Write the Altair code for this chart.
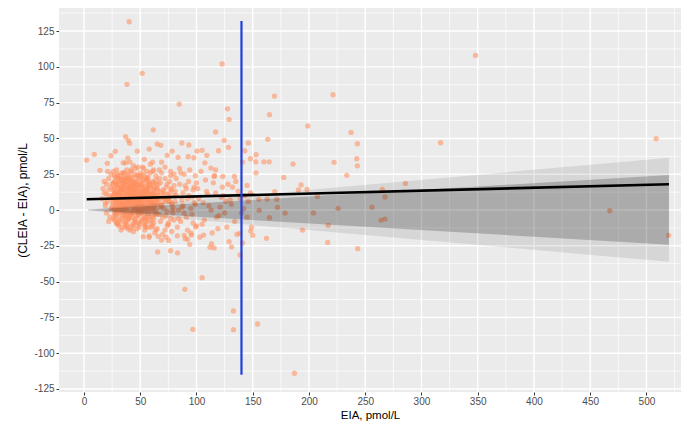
import altair as alt
import pandas as pd

# ---------------- data ----------------
# scattered points (EIA, CLEIA-EIA)
out_eia = [40.2, 38.2, 51.8, 122.8, 84.6, 127.6, 169.3, 221.4, 348, 508.6, 519.8, 467.4, 317, 285.7, 265.2, 267.6, 267.6,
           96.8, 132.9, 132.9, 154.3, 187.1, 89.7,
           129, 164.9, 199, 61.6, 117, 237.4, 37, 39.4, 40.6, 124.6, 146, 163.4, 65.1, 68.4, 87, 93.2, 58, 47.4, 27.8,
           9.2, 2.4, 78.4, 100.4, 105, 109.2, 128.5, 119.6, 143, 153, 148, 152.8, 159.9, 164.6, 141, 185.9, 222.3,
           242.5, 243, 233.6, 243, 24, 20.7, 14.2, 34.9, 39, 40.9, 53.6, 61, 69, 74, 83.7, 92.6, 97.7, 107.5, 112.8,
           117, 115.7, 123.4, 133.7, 145, 153, 177.6, 193, 198.3, 207.5, 225.9, 217, 216.7, 243.3, 194.2, 178.8, 172,
           162.2, 164.9, 155.7, 171.4, 162.8, 169.6, 155.4, 148.3, 150, 138.5, 138.8, 131.2, 115.7, 113.4, 106.3,
           99.2, 92.1, 95.6, 89.1, 83.2, 77, 75.2, 65.5, 58, 52.7, 66, 105, 190.6, 256, 264, 204]
out_diff = [131.5, 87.8, 95.5, 102, 74, 70.7, 79.6, 80.5, 108, 49.8, -17.7, -0.5, 47, 18.6, 14.4, 9.1, -6.3,
            -83.3, -70.5, -83.6, -79.6, -114, -55.4,
            63.3, 66.6, 58.7, 56, 54.5, 54.2, 51.2, 48.7, 46.6, 48.7, 46.8, 49.4, 46.1, 45.2, 46.8, 45.4, 42.6, 41.2, 41,
            38.9, 34.9, 41.2, 41.2, 41.7, 38.2, 43.8, 41.4, 41.4, 38.6, 35.8, 33.7, 33.7, 33.7, 33.5, 32.1, 33.3,
            35.8, 30.9, 24.2, 46.3, 37.9, 32.6, 27.7, 33, 36.3, 33.5, 35.4, 33.5, 33.5, 38.2, 36.8, 37.2, 36.5, 33, 29.3,
            28.1, 23.5, 23.5, 23.5, 17.2, 26, 22.8, 17.5, 14.4, 9.5, 1.2, -10.7, -22.6, -27, -14, -2.1, 1.9,
            -19.8, -5.4, -0.2, 7.5, 7.7, 12.8, 7.5, -14.7, -17.7, -16.3, -31.4, -25.8, -26.5, -23.5, -17.5,
            -11.7, -20.5, -17.5, -17.7, -30, -28.4, -21.2, -29.3, -19.1, -18.6, -18.4, -47.3, 14, 2, -7, -2]

# dense cluster, read band by band
core_eia_a = [16, 18, 19, 20, 21, 22, 23, 24, 17, 20, 22, 24, 19, 23, 21, 25, 18, 24, 22, 20]
core_diff_a = [8, 12, 3, 18, 6, 22, 10, 1, 15, -2, 14, 25, 5, -5, 27, 9, 20, 16, -8, 11]

core_eia_b = [26, 27, 28, 29, 30, 31, 32, 33, 34, 35,
              26, 28, 30, 32, 34, 27, 29, 31, 33, 35,
              25, 27, 29, 31, 33, 35, 26, 28, 30, 32,
              34, 26, 28, 30, 32, 34, 27, 29, 31, 33,
              35, 25, 28, 31, 34, 26, 29, 32, 35, 27,
              30, 33, 26, 29, 32, 35, 28, 31, 34, 27,
              30, 33, 25, 28, 31, 34, 29, 32, 35, 30]
core_diff_b = [5, 12, -3, 18, 8, 22, 0, 14, -6, 26,
               10, 2, 16, -8, 6, 20, -1, 11, 24, 3,
               7, 15, 28, -4, 9, 17, 1, 23, -10, 13,
               4, 19, -5, 25, 8, -2, 12, 6, -7, 21,
               14, 3, 10, 18, 0, 27, -9, 5, 16, -3,
               22, 9, -6, 13, 2, 19, 7, -11, 11, 24,
               4, 15, 18, -2, 8, 26, 1, 20, -4, 12]

core_eia_c = [36, 38, 40, 42, 44, 46, 48, 50, 37, 39,
              41, 43, 45, 47, 49, 36, 38, 40, 42, 44,
              46, 48, 50, 37, 39, 41, 43, 45, 47, 49,
              36, 39, 42, 45, 48, 37, 40, 43, 46, 49,
              38, 41, 44, 47, 50, 36, 39, 42, 45, 48,
              37, 40, 43, 46, 49, 38, 41, 44, 47, 50,
              36, 40, 44, 48, 39, 43, 47, 37, 41, 45,
              49, 38, 42, 46, 50, 39, 44, 48, 36, 41,
              45, 47, 43, 37, 40, 42, 46, 49, 38, 44,
              35, 39, 43, 47, 41, 45, 49, 37, 40, 48,
              42, 46, 38, 44, 50, 36, 40, 48, 43, 39]
core_diff_c = [6, -4, 15, 22, 9, -9, 30, 3, 18, 11,
               -1, 13, 25, 5, -12, 20, 8, -6, 28, 14,
               2, 17, 10, -3, 24, 7, -10, 19, 12, 0,
               26, -7, 4, 16, 8, 13, 21, -2, 29, 5,
               11, -14, 18, 3, 23, -5, 9, 27, -8, 15,
               1, 16, 6, 12, -4, 22, 10, -11, 20, 7,
               14, 3, 31, -1, 19, 8, 24, -8, 12, 4,
               17, 6, -3, 10, 26, -13, 15, 2, 21, 9,
               0, 13, 23, 10, -6, 5, 18, -9, 28, 7,
               3, 20, -2, 8, 14, -7, 11, 33, 6, 24,
               16, 1, -10, 12, -2, 9, 25, 5, 19, 0]

core_eia_d = [51, 53, 55, 57, 59, 61, 63, 65, 52, 54,
              56, 58, 60, 62, 64, 51, 53, 55, 57, 59,
              61, 63, 52, 54, 56, 58, 60, 62, 64, 51,
              53, 55, 57, 59, 61, 63, 65, 52, 54, 56,
              58, 60, 62, 64, 51, 55, 59, 63, 53, 57,
              61, 65, 52, 56, 60, 64, 54, 58, 62, 50,
              55, 59, 63, 53, 57, 61, 51, 60, 64, 58,
              52, 56, 62, 54, 60, 66, 58, 64, 50, 57,
              63, 55, 61, 53, 59, 65, 57, 51, 62, 54]
core_diff_d = [4, 12, -8, 20, 7, 27, -3, 15, 10, -14,
               2, 18, 9, -6, 24, 13, 29, -1, 6, 16,
               -11, 8, 21, 3, 14, -4, 11, 19, 0, -7,
               25, 6, -2, 17, 5, -16, 10, 30, 9, 22,
               1, -9, 14, 7, 16, -5, 26, 3, 12, -12,
               20, -3, 6, 11, 2, 18, -10, 8, 28, 13,
               15, -7, 4, 9, 23, 12, -1, 5, -14, 19,
               0, 27, 16, -4, 10, 7, -18, 21, 8, 3,
               11, -12, -5, 18, 32, 4, 14, 24, 1, 6]

core_eia_e = [66, 68, 70, 72, 74, 76, 78, 80, 67, 69,
              71, 73, 75, 77, 79, 66, 68, 70, 72, 74,
              76, 78, 67, 69, 71, 73, 75, 77, 79, 80,
              65, 68, 71, 74, 77, 80, 67, 70, 73, 76,
              79, 66, 69, 72, 75, 78, 67, 70, 73, 76,
              68, 74, 80, 71, 77, 66, 72, 78, 69, 75]
core_diff_e = [5, -8, 14, 22, -1, 9, -15, 17, 28, 3,
               11, -19, 6, 24, 0, 18, 12, -5, 8, -11,
               20, 4, -3, 26, 13, 7, -9, 15, 2, 10,
               -13, 19, 1, 11, -6, 25, 8, -17, 16, 6,
               -2, 10, 4, 30, -10, 14, 22, 9, -4, 12,
               2, 18, -7, 6, 27, 13, -14, 5, -21, 8]

core_eia_f = [81, 83, 85, 87, 89, 91, 93, 95, 97, 99,
              82, 84, 86, 88, 90, 92, 94, 96, 98, 100,
              81, 85, 89, 93, 97, 83, 87, 91, 95, 99,
              84, 88, 92, 96, 100, 82, 86, 90, 94, 98]
core_diff_f = [6, -12, 18, 2, 25, -5, 10, -16, 14, 4,
               22, 0, -8, 12, -20, 8, 28, -3, 16, -11,
               13, 29, -2, 20, -9, -18, 7, 15, 1, 24,
               -6, 3, -14, 9, 19, 10, 26, 17, -24, 5]

core_eia_g = [102, 105, 108, 111, 114, 117, 120, 123, 126, 129,
              101, 104, 107, 110, 113, 116, 119, 122, 125, 128,
              103, 106, 109, 112, 115, 118, 121, 124, 127, 130]
core_diff_g = [8, -10, 21, 3, -16, 12, -4, 16, 6, -22,
               15, 27, -7, 11, 0, 24, -13, 9, -2, 18,
               -19, 5, 13, -26, 19, -5, 2, 10, -12, 7]

core_eia_h = [131, 134, 137, 140, 143, 146, 149, 132, 136, 139, 142, 145, 148, 135, 141]
core_diff_h = [4, -8, 13, -2, 10, 6, -12, 16, -17, 8, 1, -5, 12, 20, -23]

# densest part of the cloud
core_eia_i = [28, 31, 34, 37, 40, 43, 46, 49, 52, 55,
              58, 61, 30, 33, 36, 39, 42, 45, 48, 51,
              54, 57, 60, 29, 32, 35, 38, 41, 44, 47,
              50, 53, 56, 59, 62, 30, 34, 38, 42, 46,
              50, 54, 58, 32, 36, 40, 44, 48, 52, 56,
              29, 33, 37, 41, 45, 49, 53, 57, 61, 31,
              35, 39, 43, 47, 51, 55, 59, 28, 34, 40,
              46, 52, 58, 36, 42, 48, 54, 60, 38, 44]
core_diff_i = [3, 9, 15, -2, 6, 12, 18, 0, 8, 14,
               -5, 4, 10, 16, 1, 7, 13, 19, -3, 5,
               11, 17, -1, 6, 12, 18, 2, 8, 14, -4,
               9, 15, 0, 6, 11, -2, 5, 13, 20, 3,
               10, -6, 7, 14, 1, 8, 16, -1, 4, 12,
               17, 2, 9, -4, 11, 6, 0, 13, 5, 10,
               19, -3, 7, 15, 2, 9, 4, 11, -1, 16,
               6, 13, 8, 3, 10, -2, 14, 7, 5, 1]

core_eia_j = [27, 30, 33, 36, 39, 42, 45, 48, 51, 54,
              57, 60, 63, 26, 29, 32, 35, 38, 41, 44,
              47, 50, 53, 56, 59, 62, 65, 31, 37, 43,
              49, 55, 61, 28, 34, 40, 46, 52, 58, 64,
              33, 39, 45, 51, 57, 27, 35, 43, 53, 61,
              30, 38, 46, 54, 62, 36, 44, 50, 56, 42]
core_diff_j = [-7, 1, 21, -9, 4, -12, 10, 22, -8, 2,
               12, -12, 7, 14, -9, 4, 22, -11, 17, 1,
               -13, 19, -6, 21, 9, -9, 15, 8, -12, 18,
               -10, 23, 11, 19, -12, 22, -6, 17, 6, -2,
               -14, 15, 20, -2, 17, 0, 10, -5, 21, 1,
               24, 17, 5, -11, 14, 23, -15, 18, -8, 3]

# grey limit wedges
band_x = [3.5, 520]
outer_hi = [0.3, 36.5]
outer_lo = [-0.3, -36.2]
inner_hi = [0.2, 24.4]
inner_lo = [-0.2, -24.2]

# fitted line
fit_x = [2.4, 520]
fit_y = [7.5, 18.0]

# vertical reference line
ref_x = [140]
ref_y_lo = [-115]
ref_y_hi = [132]

# axis ticks / grid
x_major = [0, 50, 100, 150, 200, 250, 300, 350, 400, 450, 500]
y_major = [-125, -100, -75, -50, -25, 0, 25, 50, 75, 100, 125]
x_minor = [25, 75, 125, 175, 225, 275, 325, 375, 425, 475, 525]
y_minor = [-112.5, -87.5, -62.5, -37.5, -12.5, 12.5, 37.5, 62.5, 87.5, 112.5, 137.5]

# ---------------- build tables ----------------
pts = []
for e_list, d_list in [(out_eia, out_diff), (core_eia_a, core_diff_a), (core_eia_b, core_diff_b),
                       (core_eia_c, core_diff_c), (core_eia_d, core_diff_d), (core_eia_e, core_diff_e),
                       (core_eia_f, core_diff_f), (core_eia_g, core_diff_g), (core_eia_h, core_diff_h),
                       (core_eia_i, core_diff_i), (core_eia_j, core_diff_j)]:
    pts.extend(zip(e_list, d_list))
pts_df = pd.DataFrame(pts, columns=["eia", "diff"])

band_df = pd.DataFrame({"x": band_x, "ohi": outer_hi, "olo": outer_lo, "ihi": inner_hi, "ilo": inner_lo})
fit_df = pd.DataFrame({"x": fit_x, "y": fit_y})
ref_df = pd.DataFrame({"x": ref_x, "y": ref_y_lo, "y2": ref_y_hi})
xmaj_df = pd.DataFrame({"v": x_major})
ymaj_df = pd.DataFrame({"v": y_major})
xmin_df = pd.DataFrame({"v": x_minor})
ymin_df = pd.DataFrame({"v": y_minor})

FONT = "Liberation Sans"
xs = alt.Scale(domain=[-22.2, 530.7], nice=False, zero=False)
ys = alt.Scale(domain=[-127.1, 141.1], nice=False, zero=False)

x_axis = alt.Axis(values=x_major, grid=False, domain=False, ticks=True, tickColor="#333333", tickSize=3,
                  tickWidth=1, labelColor="#4D4D4D", labelFontSize=10, labelPadding=1, labelFont=FONT,
                  title="EIA, pmol/L", titleFont=FONT, titleFontSize=11.5, titleFontWeight="normal",
                  titleColor="#000000", titleY=23, titleBaseline="middle")
y_axis = alt.Axis(values=y_major, grid=False, domain=False, ticks=True, tickColor="#333333", tickSize=3,
                  tickWidth=1, labelColor="#4D4D4D", labelFontSize=10, labelPadding=2, labelFont=FONT,
                  labelExpr="'' + datum.value",
                  title="(CLEIA - EIA), pmol/L", titleFont=FONT, titleFontSize=12, titleFontWeight="normal",
                  titleColor="#000000", titleX=-37, titleY=192, titleAngle=270, titleAlign="center",
                  titleBaseline="middle")


def X(field):
    return alt.X(field, scale=xs, axis=x_axis)


def Y(field):
    return alt.Y(field, scale=ys, axis=y_axis)


ymin_layer = alt.Chart(ymin_df).mark_rule(color="white", strokeWidth=0.7).encode(y=Y("v:Q"))
xmin_layer = alt.Chart(xmin_df).mark_rule(color="white", strokeWidth=0.7).encode(x=X("v:Q"))
ymaj_layer = alt.Chart(ymaj_df).mark_rule(color="white", strokeWidth=1.4).encode(y=Y("v:Q"))
xmaj_layer = alt.Chart(xmaj_df).mark_rule(color="white", strokeWidth=1.4).encode(x=X("v:Q"))

points = alt.Chart(pts_df).mark_circle(size=28, color="#FF9060", opacity=0.58).encode(
    x=X("eia:Q"), y=Y("diff:Q"))

outer = alt.Chart(band_df).mark_area(color="#000000", opacity=0.085).encode(
    x=X("x:Q"), y=Y("ohi:Q"), y2="olo:Q")
inner = alt.Chart(band_df).mark_area(color="#000000", opacity=0.2).encode(
    x=X("x:Q"), y=Y("ihi:Q"), y2="ilo:Q")

fit = alt.Chart(fit_df).mark_line(color="#000000", strokeWidth=2.6).encode(
    x=X("x:Q"), y=Y("y:Q"))

ref = alt.Chart(ref_df).mark_rule(color="#1F3FD9", strokeWidth=2.2).encode(
    x=X("x:Q"), y=Y("y:Q"), y2="y2:Q")

chart = alt.layer(ymin_layer, xmin_layer, ymaj_layer, xmaj_layer, points, outer, inner, fit, ref).properties(
    width=622, height=384,
    autosize=alt.AutoSizeParams(type="none"),
    padding={"left": 51, "top": 0, "right": 0, "bottom": 30},
    background="#FFFFFF",
).configure_view(fill="#EBEBEB", strokeWidth=0).configure_axis(labelFont=FONT, titleFont=FONT)

chart.save("out.html", embed_options={"renderer": "svg", "actions": False})
